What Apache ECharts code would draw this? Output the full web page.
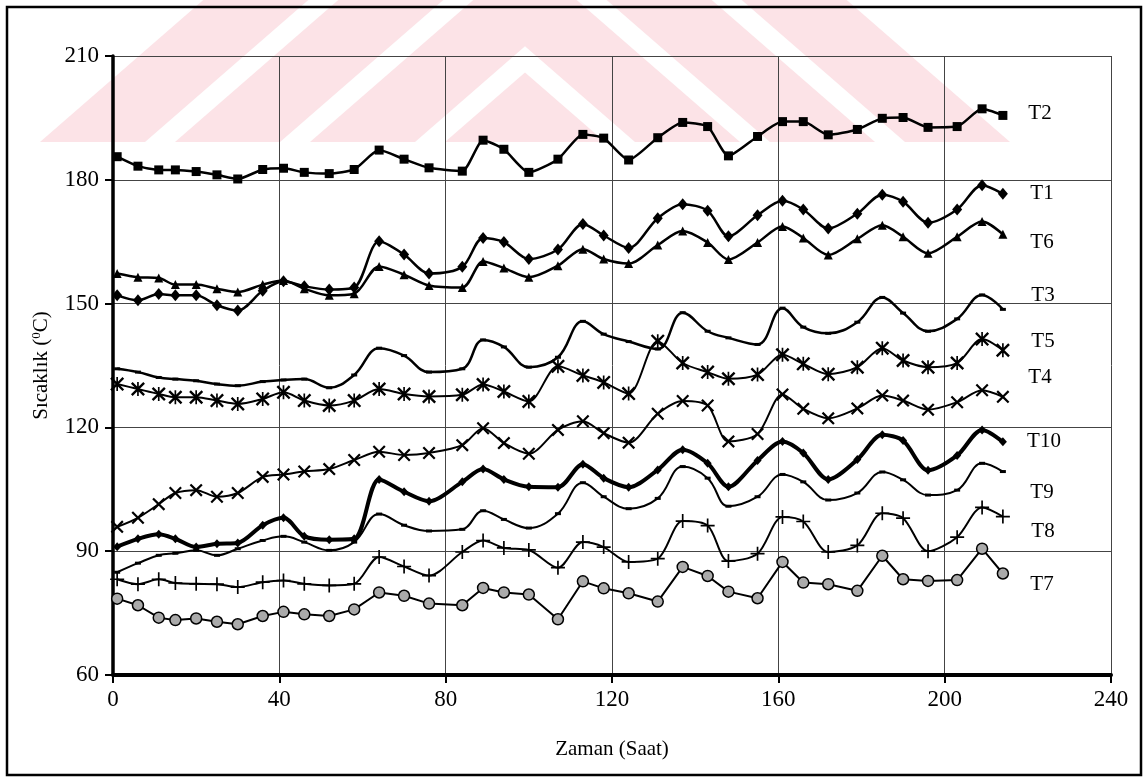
<!DOCTYPE html>
<html>
<head>
<meta charset="utf-8">
<script src="https://cdn.jsdelivr.net/npm/echarts@6/dist/echarts.min.js"></script>
<style>
  html, body { margin: 0; padding: 0; background: #fff; }
  #chart { width: 1146px; height: 780px; }
</style>
</head>
<body>
<div id="chart"></div>
<script>
// time of each reading (hours)
var hours = [1, 6, 11, 15, 20, 25, 30, 36, 41, 46, 52, 58, 64, 70, 76, 84, 89, 94, 100, 107,
  113, 118, 124, 131, 137, 143, 148, 155, 161, 166, 172, 179, 185, 190, 196, 203, 209, 214];

// temperatures (°C)
var t2 = [185.6, 183.3, 182.4, 182.4, 182.0, 181.2, 180.2, 182.5, 182.8, 181.8, 181.5, 182.5, 187.2, 185.0, 182.9, 182.1, 189.6, 187.4, 181.8, 185.0,
  191.0, 190.1, 184.8, 190.2, 193.9, 192.9, 185.8, 190.5, 194.1, 194.1, 190.9, 192.2, 194.9, 195.1, 192.7, 192.9, 197.2, 195.6];
var t1 = [152.0, 150.8, 152.3, 152.0, 152.0, 149.6, 148.3, 153.1, 155.4, 154.2, 153.4, 153.9, 165.1, 161.9, 157.3, 158.9, 165.9, 164.9, 160.8, 163.1,
  169.3, 166.5, 163.5, 170.7, 174.1, 172.5, 166.3, 171.4, 174.9, 172.8, 168.2, 171.8, 176.4, 174.7, 169.6, 172.8, 178.7, 176.6];
var t6 = [157.3, 156.4, 156.2, 154.6, 154.6, 153.6, 152.8, 154.6, 155.6, 153.6, 152.0, 152.4, 159.0, 157.0, 154.4, 153.9, 160.2, 158.6, 156.4, 159.2,
  163.2, 160.8, 159.7, 164.2, 167.6, 164.8, 160.7, 164.8, 168.7, 165.9, 161.8, 165.7, 169.0, 166.2, 162.2, 166.2, 169.9, 166.8];
var t3 = [134.2, 133.4, 132.1, 131.7, 131.3, 130.5, 130.1, 131.1, 131.5, 131.7, 129.6, 132.7, 139.2, 137.4, 133.4, 134.2, 141.2, 139.5, 134.6, 137.0,
  145.7, 142.6, 140.8, 139.0, 147.8, 143.3, 141.7, 140.1, 148.9, 144.3, 142.8, 145.5, 151.5, 147.7, 143.3, 146.3, 152.1, 148.6];
var t5 = [130.5, 129.3, 128.1, 127.3, 127.3, 126.5, 125.7, 126.9, 128.5, 126.5, 125.3, 126.5, 129.3, 128.1, 127.5, 127.9, 130.4, 128.7, 126.3, 134.8,
  132.6, 130.9, 128.2, 140.9, 135.6, 133.4, 131.8, 132.8, 137.6, 135.4, 132.9, 134.6, 139.2, 136.2, 134.6, 135.6, 141.4, 138.7];
var t4 = [95.9, 98.1, 101.4, 104.1, 104.8, 103.2, 104.1, 108.0, 108.6, 109.3, 109.9, 112.1, 114.1, 113.3, 113.8, 115.7, 119.8, 116.2, 113.6, 119.4,
  121.5, 118.6, 116.3, 123.3, 126.4, 125.3, 116.6, 118.4, 128.0, 124.5, 122.2, 124.6, 127.7, 126.5, 124.3, 126.1, 129.0, 127.4];
var t10 = [91.1, 93.0, 94.1, 93.0, 91.0, 91.8, 92.0, 96.3, 98.1, 93.6, 92.8, 93.0, 107.4, 104.4, 102.1, 106.8, 109.9, 107.4, 105.6, 105.5,
  111.1, 107.7, 105.5, 109.7, 114.6, 111.3, 105.6, 112.0, 116.6, 113.8, 107.4, 112.2, 118.2, 116.8, 109.6, 113.2, 119.4, 116.5];
var t9 = [84.9, 87.1, 89.0, 89.5, 90.2, 89.0, 90.6, 92.6, 93.6, 92.2, 90.2, 92.2, 99.0, 96.3, 94.9, 95.3, 99.8, 97.7, 95.6, 99.1,
  106.6, 103.2, 100.3, 102.8, 110.5, 107.7, 100.9, 103.2, 108.6, 106.8, 102.4, 104.1, 109.2, 107.3, 103.6, 104.8, 111.3, 109.3];
var t8 = [83.2, 82.0, 83.2, 82.3, 82.1, 82.0, 81.3, 82.5, 82.9, 82.1, 81.7, 82.1, 88.6, 86.3, 84.1, 89.8, 92.6, 90.8, 90.3, 86.0,
  92.2, 91.0, 87.4, 88.2, 97.3, 96.2, 87.6, 89.4, 98.3, 97.2, 89.8, 91.4, 99.2, 98.0, 90.0, 93.4, 100.6, 98.4];
var t7 = [78.5, 76.9, 73.9, 73.3, 73.7, 72.9, 72.3, 74.3, 75.3, 74.7, 74.3, 75.9, 80.0, 79.2, 77.3, 76.9, 81.1, 80.0, 79.5, 73.5,
  82.7, 81.0, 79.8, 77.8, 86.2, 84.0, 80.2, 78.6, 87.4, 82.4, 82.0, 80.4, 88.9, 83.2, 82.8, 83.0, 90.6, 84.6];

var xTicks = { min: 0, max: 240, step: 40 };
var yTicks = { min: 60, max: 210, step: 30 };

var font = "'Liberation Serif', 'Times New Roman', serif";
var crossX = 'path://M0,1.2L1.2,0L5,3.8L8.8,0L10,1.2L6.2,5L10,8.8L8.8,10L5,6.2L1.2,10L0,8.8L3.8,5Z';
var plus = 'path://M4.4,0H5.6V4.4H10V5.6H5.6V10H4.4V5.6H0V4.4H4.4Z';
var star = crossX + 'M4.4,0H5.6V10H4.4Z';

function pairs(vals) {
  return vals.map(function (v, i) { return [hours[i], v]; });
}

function line(name, vals, o) {
  return {
    name: name,
    type: 'line',
    data: pairs(vals),
    smooth: o.smooth === undefined ? 0.3 : o.smooth,
    symbol: o.symbol,
    symbolSize: o.size,
    showAllSymbol: true,
    lineStyle: { color: '#000', width: o.width || 2.2 },
    itemStyle: { color: o.fill || '#000', borderColor: '#000', borderWidth: o.border || 0 },
    z: o.z || 3,
    animation: false
  };
}

// pink stripe watermark from the scanned page (decoration only)
function chevron(dl, dr) {
  var c = 525, yb = 142, m = 1.15;
  var h = (dl + dr) / (2 * m);
  if (h <= yb) {
    return [[c - dl, yb], [c - dl + m * h, yb - h], [c + dr, yb]];
  }
  return [[c - dl, yb], [c - dl + m * yb, 0], [c + dr - m * yb, 0], [c + dr, yb]];
}
var mark = [];
var d = 485, pink = true;
while (d > 0) {
  mark.push({
    type: 'polygon', z: -10, silent: true,
    shape: { points: chevron(d, d) },
    style: { fill: pink ? '#fce3e7' : '#ffffff' }
  });
  d -= pink ? 105 : 30;
  pink = !pink;
}

var labels = [
  ['T2', 1040, 113], ['T1', 1042, 193], ['T6', 1042, 242], ['T3', 1043, 295], ['T5', 1043, 341],
  ['T4', 1040, 377], ['T10', 1044, 441], ['T9', 1042, 492], ['T8', 1043, 531], ['T7', 1042, 584]
];
var texts = labels.map(function (l) {
  return {
    type: 'text', x: l[1], y: l[2], z: 10,
    style: { text: l[0], font: '21px ' + font, fill: '#000', align: 'center', verticalAlign: 'middle' }
  };
});

var chart = echarts.init(document.getElementById('chart'));
chart.setOption({
  backgroundColor: '#fff',
  animation: false,
  grid: { left: 113, right: 35, top: 56, bottom: 105 },
  xAxis: {
    type: 'value',
    min: xTicks.min, max: xTicks.max, interval: xTicks.step,
    name: 'Zaman (Saat)',
    nameLocation: 'middle',
    nameGap: 64,
    nameTextStyle: { fontFamily: font, fontSize: 21, color: '#000' },
    axisLine: { lineStyle: { color: '#000', width: 4 } },
    axisTick: { length: 8, lineStyle: { color: '#000', width: 2 } },
    axisLabel: { fontFamily: font, fontSize: 23, color: '#000', margin: 13 },
    splitLine: { lineStyle: { color: '#444', width: 1 } }
  },
  yAxis: {
    type: 'value',
    min: yTicks.min, max: yTicks.max, interval: yTicks.step,
    name: 'Sıcaklık ({sup|0}C)',
    nameLocation: 'middle',
    nameGap: 60,
    nameTextStyle: {
      fontFamily: font, fontSize: 21, color: '#000',
      rich: { sup: { fontFamily: font, fontSize: 13, color: '#000', padding: [0, 0, 10, 0] } }
    },
    axisLine: { show: true, lineStyle: { color: '#000', width: 3.5 } },
    axisTick: { show: true, length: 8, lineStyle: { color: '#000', width: 2 } },
    axisLabel: { fontFamily: font, fontSize: 23, color: '#000', margin: 14 },
    splitLine: { lineStyle: { color: '#444', width: 1 } }
  },
  graphic: mark.concat(texts).concat([{
    type: 'rect', z: 10, silent: true,
    shape: { x: 7, y: 7, width: 1134, height: 768 },
    style: { fill: 'none', stroke: '#000', lineWidth: 2.5 }
  }]),
  series: [
    line('T2', t2, { symbol: 'rect', size: 9, width: 2.5, smooth: 0.2 }),
    line('T1', t1, { symbol: 'diamond', size: [10, 12], width: 2.5 }),
    line('T6', t6, { symbol: 'triangle', size: 9, width: 2.5 }),
    line('T3', t3, { symbol: 'rect', size: [6, 3], width: 2.5, smooth: 0.4 }),
    line('T5', t5, { symbol: star, size: 14, width: 2 }),
    line('T4', t4, { symbol: crossX, size: 13, width: 2 }),
    line('T10', t10, { symbol: 'diamond', size: [8, 9], width: 4 }),
    line('T9', t9, { symbol: 'rect', size: [6, 3], width: 2, smooth: 0.4 }),
    line('T8', t8, { symbol: plus, size: 14, width: 2 }),
    line('T7', t7, { symbol: 'circle', size: 11, width: 2, smooth: 0, fill: '#aaaaaa', border: 1.5 })
  ]
});
</script>
</body>
</html>
